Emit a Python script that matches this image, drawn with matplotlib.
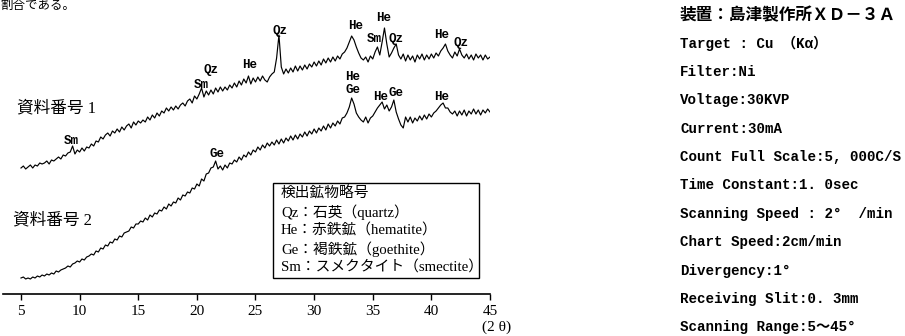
import numpy as np
import matplotlib
matplotlib.use("Agg")
import matplotlib.pyplot as plt
from matplotlib.patches import Rectangle

# ---- diffraction traces (2θ in degrees, intensity in arbitrary chart units) ----
two_theta = np.round(np.arange(5.0, 45.0001, 0.2), 1)

counts_sample1 = [
    126, 128, 125, 127, 129, 126, 129, 128, 131, 130,
    131, 133, 130, 134, 133, 135, 137, 135, 139, 138,
    141, 142, 148, 140, 144, 142, 146, 143, 147, 146,
    150, 148, 153, 152, 157, 155, 159, 161, 158, 163,
    161, 165, 162, 167, 164, 168, 170, 166, 172, 169,
    173, 171, 174, 172, 177, 174, 179, 176, 181, 178,
    183, 181, 186, 183, 187, 184, 188, 185, 189, 191,
    188, 193, 195, 191, 198, 195, 200, 206, 197, 203,
    199, 204, 200, 206, 202, 207, 203, 207, 204, 209,
    206, 211, 207, 213, 209, 215, 211, 218, 210, 216,
    212, 217, 213, 218, 214, 212, 217, 220, 222, 236,
    259, 227, 220, 225, 221, 226, 222, 228, 223, 228,
    224, 229, 225, 230, 227, 232, 228, 233, 229, 235,
    231, 236, 232, 237, 233, 238, 235, 240, 242, 246,
    252, 258, 254, 247, 241, 236, 234, 237, 232, 238,
    235, 242, 247, 239, 252, 266, 250, 237, 241, 246,
    250, 239, 235, 240, 233, 239, 234, 238, 232, 239,
    235, 240, 234, 239, 235, 240, 236, 241, 238, 243,
    246, 250, 243, 239, 236, 242, 238, 245, 239, 236,
    240, 235, 239, 234, 240, 236, 239, 234, 239, 235,
    237,
]

counts_sample2 = [
    16, 17, 15, 16, 15, 17, 16, 18, 17, 19,
    18, 20, 19, 21, 20, 23, 22, 24, 25, 26,
    28, 27, 30, 31, 33, 32, 35, 34, 37, 38,
    40, 39, 43, 42, 46, 45, 49, 48, 52, 51,
    55, 54, 58, 57, 61, 62, 63, 67, 66, 70,
    70, 73, 72, 76, 74, 79, 77, 81, 80, 84,
    83, 87, 85, 90, 88, 92, 91, 96, 94, 99,
    98, 102, 101, 106, 105, 110, 108, 115, 113, 120,
    121, 126, 127, 133, 125, 128, 124, 129, 126, 131,
    130, 134, 132, 137, 134, 139, 137, 142, 139, 144,
    142, 147, 144, 149, 146, 151, 148, 152, 149, 154,
    150, 155, 151, 156, 153, 158, 154, 159, 155, 160,
    157, 162, 158, 163, 160, 165, 161, 166, 163, 168,
    164, 170, 166, 171, 168, 173, 170, 176, 177, 181,
    187, 196, 190, 181, 177, 174, 172, 177, 171, 176,
    178, 182, 186, 189, 192, 185, 189, 183, 187, 194,
    182, 175, 169, 166, 177, 172, 177, 171, 176, 173,
    178, 174, 179, 175, 180, 177, 181, 183, 186, 189,
    191, 186, 186, 182, 180, 183, 178, 183, 179, 184,
    178, 183, 180, 185, 180, 184, 179, 184, 181, 185,
    182,
]

# peak identifications: (label, 2θ, chart height of the label)
peaks_sample1 = [
    ("Sm", 9.3, 153), ("Sm", 20.4, 209), ("Qz", 21.2, 224), ("He", 24.5, 229),
    ("Qz", 27.1, 263), ("He", 33.5, 268), ("Sm", 35.1, 255), ("He", 35.9, 276),
    ("Qz", 37.0, 255), ("He", 40.9, 259), ("Qz", 42.5, 251),
]
peaks_sample2 = [
    ("Ge", 21.7, 140), ("He", 33.3, 217), ("Ge", 33.3, 204),
    ("He", 35.7, 197), ("Ge", 37.0, 201), ("He", 40.9, 197),
]

tick_values = [5, 10, 15, 20, 25, 30, 35, 40, 45]
sample_names = ["資料番号 1", "資料番号 2"]

legend_title = "検出鉱物略号"
legend_rows = [
    "Qz：石英（quartz）",
    "He：赤鉄鉱（hematite）",
    "Ge：褐鉄鉱（goethite）",
    "Sm：スメクタイト（smectite）",
]

instrument = "装置：島津製作所ＸＤ－３Ａ"
conditions = [
    "Target : Cu （Kα）",
    "Filter:Ni",
    "Voltage:30KVP",
    "Current:30mA",
    "Count Full Scale:5, 000C/S",
    "Time Constant:1. 0sec",
    "Scanning Speed : 2°  /min",
    "Chart Speed:2cm/min",
    "Divergency:1°",
    "Receiving Slit:0. 3mm",
    "Scanning Range:5〜45°",
]

SERIF = ["Liberation Serif", "Noto Sans CJK JP"]
MONO = ["Liberation Mono", "Noto Sans CJK JP"]

W, H = 905, 336
fig = plt.figure(figsize=(W / 100, H / 100), dpi=100)
fig.patch.set_facecolor("white")


def fx(px):
    return px / W


def fy(py):
    return 1 - py / H


# chart area
ax = fig.add_axes([fx(3), fy(294), fx(490) - fx(3), fy(0) - fy(294)])
ax.set_xlim(3.465, 45.0)
ax.set_ylim(0, 294)
ax.set_facecolor("none")

ax.plot(two_theta, counts_sample1, color="black", lw=0.85)
ax.plot(two_theta, counts_sample2, color="black", lw=0.85)

for name, pos, h in peaks_sample1 + peaks_sample2:
    ax.text(pos, h, name, ha="center", va="center", fontsize=9,
            family=MONO, fontweight="bold", color="black")

for sp in ("top", "right", "left"):
    ax.spines[sp].set_visible(False)
ax.spines["bottom"].set_linewidth(1.2)
ax.set_yticks([])
ax.set_xticks(tick_values)
ax.set_xticklabels([str(v) for v in tick_values], family=SERIF, fontsize=11)
ax.tick_params(axis="x", direction="out", length=4, width=1, pad=4)

fig.text(fx(482), fy(327), "(2 θ)", ha="left", va="center",
         family=SERIF, fontsize=11)

# sample names
fig.text(fx(17), fy(108), sample_names[0], ha="left", va="center",
         family=SERIF, fontsize=12)
fig.text(fx(13), fy(220), sample_names[1], ha="left", va="center",
         family=SERIF, fontsize=12)

# mineral legend box
fig.add_artist(Rectangle((fx(273), fy(278)), fx(479) - fx(273), fy(183) - fy(278),
                         transform=fig.transFigure, fill=False,
                         edgecolor="black", lw=1.0))
legend_y = [193, 212, 231, 249, 268]
for text, py in zip([legend_title] + legend_rows, legend_y):
    fig.text(fx(281), fy(py), text, ha="left", va="center",
             family=SERIF, fontsize=10.6)

# measurement conditions
fig.text(fx(680), fy(15), instrument, ha="left", va="center",
         family=MONO, fontsize=12, fontweight="bold")
for i, text in enumerate(conditions, start=1):
    fig.text(fx(680), fy(15 + i * 28.4), text, ha="left", va="center",
             family=MONO, fontsize=10.2, fontweight="bold")

# running text from the page above
fig.text(fx(0), fy(0), "割合である。", ha="left", va="top",
         family=SERIF, fontsize=9)

fig.savefig("out.png", dpi=100, facecolor="white")
